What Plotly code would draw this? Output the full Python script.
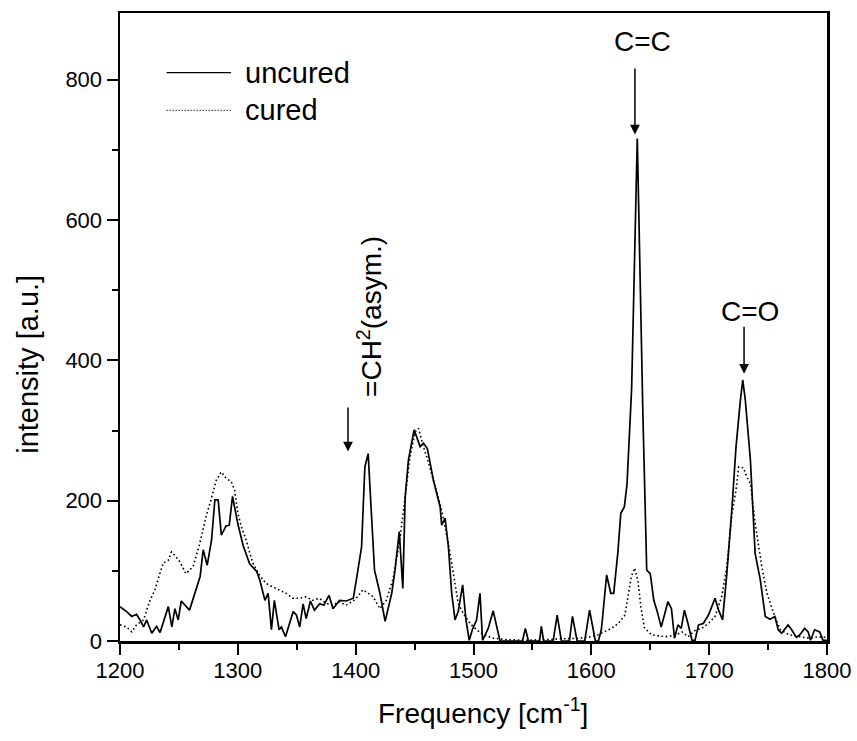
import plotly.graph_objects as go

# ---------------- data ----------------
uncured_x = [1200, 1205.6, 1210, 1214, 1217, 1220, 1222.6, 1227, 1231, 1234, 1241, 1244, 1246.6,
             1249.4, 1252, 1259, 1268, 1270.6, 1274, 1277.7, 1280.5, 1283.3, 1286, 1290, 1292.7,
             1295.5, 1300, 1304.5, 1310, 1316, 1318.6, 1323, 1325.7, 1328.5, 1331, 1335, 1337,
             1340.4, 1347, 1349.7, 1352.5, 1355.4, 1358, 1361.6, 1365, 1369.5, 1373, 1377.4,
             1380.8, 1386.4, 1392, 1398, 1400.6, 1405, 1407.8, 1410.6, 1413.5, 1416, 1420.6, 1425,
             1430.6, 1433.4, 1437, 1440, 1442, 1444.8, 1449.6, 1454.7, 1457.5, 1460.9, 1466,
             1471.7, 1473, 1475.9, 1478.7, 1481.5, 1484.3, 1487, 1490.8, 1493.6, 1496.4, 1499,
             1502.6, 1505.5, 1507.7, 1512.5, 1516.7, 1519.6, 1522.5, 1541.5, 1544, 1546.6,
             1556, 1557.6, 1559.5, 1567.6, 1571, 1574.6, 1581.4, 1584, 1587.9, 1594.4, 1598.5,
             1603.4, 1606, 1608.5, 1613, 1616.5, 1619, 1622.5, 1625, 1628, 1630.3, 1634.2, 1639,
             1643.8, 1647, 1650, 1653, 1655.6, 1659.3, 1665, 1668, 1670.6, 1673.5, 1676.3, 1679,
             1682, 1685.4, 1688, 1691, 1695, 1699.4, 1705, 1708, 1711.4, 1715, 1719.4, 1722.8,
             1726.5, 1728.5, 1730.7, 1735, 1739, 1743.4, 1747.6, 1751.6, 1755.8, 1758.6, 1761.4,
             1767, 1770, 1774.1, 1777, 1781, 1784, 1786, 1789.5, 1793.8, 1796.6, 1800]
uncured_y = [49, 42, 35, 38, 30, 20, 30, 11, 21, 12, 49, 20, 46,
             30, 57, 44, 92, 130, 108, 144, 201, 201, 151, 164, 165,
             206, 167, 136, 110, 99, 87, 58, 68, 16, 58, 16, 20,
             6, 42, 37, 20, 53, 32, 57, 44, 53, 51, 65,
             46, 58, 57, 61, 87, 134, 248, 267, 177, 101, 68, 28,
             68, 101, 156, 75, 205, 258, 301, 277, 282, 274, 229,
             191, 165, 175, 134, 68, 30, 42, 80, 30, 1, 16,
             30, 68, 1, 18, 43, 20, 0, 0, 18, 0,
             0, 21, 0, 0, 37, 0, 0, 35, 0, 0, 44,
             0, 0, 16, 94, 68, 68, 126, 182, 191, 224, 360, 716,
             320, 101, 96, 58, 44, 20, 56, 46, 4, 23, 18, 44,
             25, 1, 1, 23, 25, 37, 61, 44, 30, 96, 191, 277,
             343, 372, 343, 258, 125, 87, 35, 31, 35, 16, 11,
             23, 16, 5, 9, 18, 13, 1, 16, 13, 1, 1]

cured_x = [1200, 1205.6, 1210, 1214, 1220, 1225, 1229.6, 1234, 1236.6, 1241, 1243.7, 1246.5,
           1250.7, 1256, 1262, 1267.7, 1273, 1277.5, 1281.7, 1286, 1290, 1294.4, 1297.3, 1300,
           1303, 1307, 1312.7, 1318.4, 1324, 1329.7, 1335, 1341, 1346.6, 1352.5, 1358, 1363.5,
           1369, 1374.8, 1380.4, 1386, 1391.7, 1397, 1400.6, 1406, 1410.6, 1414.8, 1420.6, 1426,
           1431.8, 1437.4, 1442, 1446, 1450.5, 1453.3, 1457.5, 1461.7, 1467.4, 1473, 1478.7,
           1483, 1487, 1491.4, 1497, 1502.6, 1508.3, 1516.7, 1528, 1545, 1560, 1575, 1590, 1600,
           1606, 1617, 1623, 1628.5, 1631, 1634, 1636.8, 1639.6, 1642, 1645, 1651, 1662, 1671,
           1677, 1682, 1688, 1693.6, 1699.4, 1705, 1710.6, 1715, 1719.4, 1722.8, 1725, 1729,
           1732, 1735, 1739, 1744.7, 1749, 1754.8, 1760.4, 1767.4, 1776, 1784.6, 1793, 1800]
cured_y = [23, 20, 13, 23, 30, 56, 73, 96, 111, 115, 127, 122,
           113, 96, 106, 139, 177, 203, 229, 241, 232, 227, 215, 182,
           163, 144, 111, 94, 82, 77, 73, 68, 61, 61, 63, 58,
           61, 54, 51, 56, 51, 56, 61, 73, 68, 63, 46, 58,
           89, 144, 205, 262, 298, 303, 277, 255, 220, 186, 139,
           92, 54, 39, 25, 16, 9, 4, 2, 1, 2, 3, 4, 6,
           9, 18, 25, 37, 65, 92, 104, 85, 49, 19, 9, 6, 8,
           13, 6, 15, 18, 25, 35, 63, 106, 182, 215, 248, 247,
           234, 224, 168, 106, 68, 39, 16, 9, 6, 4, 6, 5]

x_ticks = [1200, 1300, 1400, 1500, 1600, 1700, 1800]
y_ticks = [0, 200, 400, 600, 800]

series_names = ["uncured", "cured"]
peak_labels = ["=CH<sup>2</sup>(asym.)", "C=C", "C=O"]

FONT = "Liberation Sans, Arial, Helvetica, sans-serif"

fig = go.Figure()
fig.add_trace(go.Scatter(x=uncured_x, y=uncured_y, mode="lines", name=series_names[0],
                         line=dict(color="black", width=1.7), showlegend=False))
fig.add_trace(go.Scatter(x=cured_x, y=cured_y, mode="lines", name=series_names[1],
                         line=dict(color="black", width=1.6, dash="1.6px,2.6px"), showlegend=False))

# legend drawn manually (long sample lines as in the reference)
fig.add_shape(type="line", xref="paper", yref="paper", x0=0.066, x1=0.157, y0=0.905, y1=0.905,
              line=dict(color="black", width=1.3))
fig.add_shape(type="line", xref="paper", yref="paper", x0=0.066, x1=0.157, y0=0.845, y1=0.845,
              line=dict(color="black", width=1.2, dash="1px,2px"))
fig.add_annotation(xref="paper", yref="paper", x=0.174, y=0.905, text=series_names[0],
                   showarrow=False, xanchor="left", yanchor="middle",
                   font=dict(family=FONT, size=29, color="black"))
fig.add_annotation(xref="paper", yref="paper", x=0.174, y=0.845, text=series_names[1],
                   showarrow=False, xanchor="left", yanchor="middle",
                   font=dict(family=FONT, size=29, color="black"))

# peak arrows
arrow = dict(showarrow=True, arrowhead=2, arrowsize=1.3, arrowwidth=1.5, arrowcolor="black",
             axref="x", ayref="y", text="")
fig.add_annotation(x=1393.5, y=270, ax=1393.5, ay=335, **arrow)
fig.add_annotation(x=1637, y=722, ax=1637, ay=818, **arrow)
fig.add_annotation(x=1729.6, y=381, ax=1729.6, ay=450, **arrow)

# peak labels
fig.add_annotation(x=1412, y=463, text=peak_labels[0], textangle=-90, showarrow=False,
                   font=dict(family=FONT, size=28, color="black"))
fig.add_annotation(x=1643.6, y=855, text=peak_labels[1], showarrow=False,
                   font=dict(family=FONT, size=28, color="black"))
fig.add_annotation(x=1734.8, y=469, text=peak_labels[2], showarrow=False,
                   font=dict(family=FONT, size=28, color="black"))

# axis titles
fig.add_annotation(xref="paper", yref="paper", x=0.513, y=-0.112, yanchor="middle",
                   text="Frequency [cm<sup>-1</sup>]", showarrow=False,
                   font=dict(family=FONT, size=28, color="black"))
fig.add_annotation(xref="paper", yref="paper", x=-0.13, y=0.44, xanchor="center",
                   text="intensity [a.u.]", textangle=-90, showarrow=False,
                   font=dict(family=FONT, size=29, color="black"))

axis_common = dict(showgrid=False, zeroline=False, showline=True, linecolor="black",
                   linewidth=2.5, mirror=True, ticks="outside", tickcolor="black",
                   tickwidth=2, ticklen=11, automargin=False,
                   tickfont=dict(family=FONT, size=22, color="black"))

fig.update_xaxes(range=[1200, 1800], tickmode="array", tickvals=x_ticks,
                 ticktext=[str(v) for v in x_ticks], ticklabelstandoff=-3,
                 minor=dict(dtick=50, tick0=1200, ticks="outside", ticklen=6,
                            tickwidth=2, tickcolor="black"),
                 **axis_common)
fig.update_yaxes(range=[0, 895], tickmode="array", tickvals=y_ticks,
                 ticktext=[str(v) for v in y_ticks],
                 minor=dict(dtick=100, tick0=0, ticks="outside", ticklen=6,
                            tickwidth=2, tickcolor="black"),
                 **axis_common)

fig.update_layout(width=857, height=741, paper_bgcolor="white", plot_bgcolor="white",
                  margin=dict(l=120, r=30, t=13, b=100, autoexpand=False),
                  showlegend=False, font=dict(family=FONT, color="black"))

fig.write_html("out.html",
               config={"displayModeBar": False, "staticPlot": True},
               post_script="document.documentElement.style.margin='0';"
                           "document.body.style.margin='0';"
                           "document.body.style.overflow='hidden';")
